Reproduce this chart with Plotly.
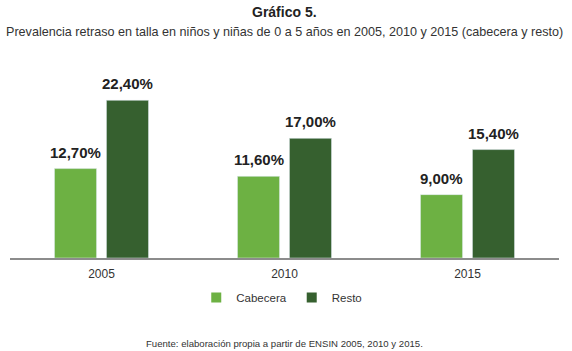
import plotly.graph_objects as go

years = ["2005", "2010", "2015"]
cabecera = [12.70, 11.60, 9.00]
resto = [22.40, 17.00, 15.40]

c_light = "#6DB143"
c_dark = "#36602F"
font_family = "Liberation Sans, Arial, sans-serif"
bargap = 0.432

fig = go.Figure()
fig.add_trace(go.Bar(x=years, y=cabecera, name="Cabecera", marker_color=c_light, showlegend=False))
fig.add_trace(go.Bar(x=years, y=resto, name="Resto", marker_color=c_dark, showlegend=False))
# legend entries with small square swatches
for name, col in [("Cabecera", c_light), ("Resto", c_dark)]:
    fig.add_trace(go.Scatter(
        x=[years[0]], y=[None], mode="markers", name=name,
        marker=dict(symbol="square", size=10, color=col),
    ))

# value labels above each bar (category index + group offset)
slot = (1 - bargap) / 2
annotations = []
for vals, off in [(cabecera, -slot / 2), (resto, slot / 2)]:
    for i, v in enumerate(vals):
        annotations.append(dict(
            x=i + off, y=v, xref="x", yref="y", yshift=6,
            yanchor="bottom", xanchor="center", showarrow=False,
            text="<b>" + f"{v:.2f}".replace(".", ",") + "%</b>",
            font=dict(size=15, color="#222222", family=font_family),
        ))

annotations += [
    dict(text="<b>Gráfico 5.</b>", xref="paper", yref="paper", x=0.5, xanchor="center",
         y=(351 - 12 - 93) / 176, yanchor="middle", showarrow=False,
         font=dict(size=14, color="#222222")),
    dict(text="Prevalencia retraso en talla en niños y niñas de 0 a 5 años en 2005, 2010 y 2015 (cabecera y resto)",
         xref="paper", yref="paper", x=0.5, xanchor="center",
         y=(351 - 32 - 93) / 176, yanchor="middle", showarrow=False,
         font=dict(size=12.6, color="#333333")),
    dict(text="Fuente: elaboración propia a partir de ENSIN 2005, 2010 y 2015.",
         xref="paper", yref="paper", x=0.5, xanchor="center",
         y=(351 - 343 - 93) / 176, yanchor="middle", showarrow=False,
         font=dict(size=9.6, color="#333333")),
]

fig.update_layout(
    width=572, height=351,
    margin=dict(l=10, r=13, t=82, b=93),
    paper_bgcolor="white", plot_bgcolor="white",
    barmode="group", bargap=bargap, bargroupgap=0.19,
    font=dict(family=font_family, color="#333333"),
    showlegend=True,
    legend=dict(orientation="h", x=0.495, xanchor="center", y=-0.225, yanchor="middle",
                font=dict(size=11.5, color="#333333"), itemwidth=30,
                traceorder="normal"),
    xaxis=dict(type="category", range=[-0.5, len(years) - 0.5], showline=True,
               linecolor="#8c8c8c", linewidth=1.5, ticks="",
               ticklabelstandoff=4,
               tickfont=dict(size=12, color="#333333"), showgrid=False),
    yaxis=dict(range=[0, 25], visible=False, showgrid=False, zeroline=False),
    annotations=annotations,
)

fig.write_html("out.html")
